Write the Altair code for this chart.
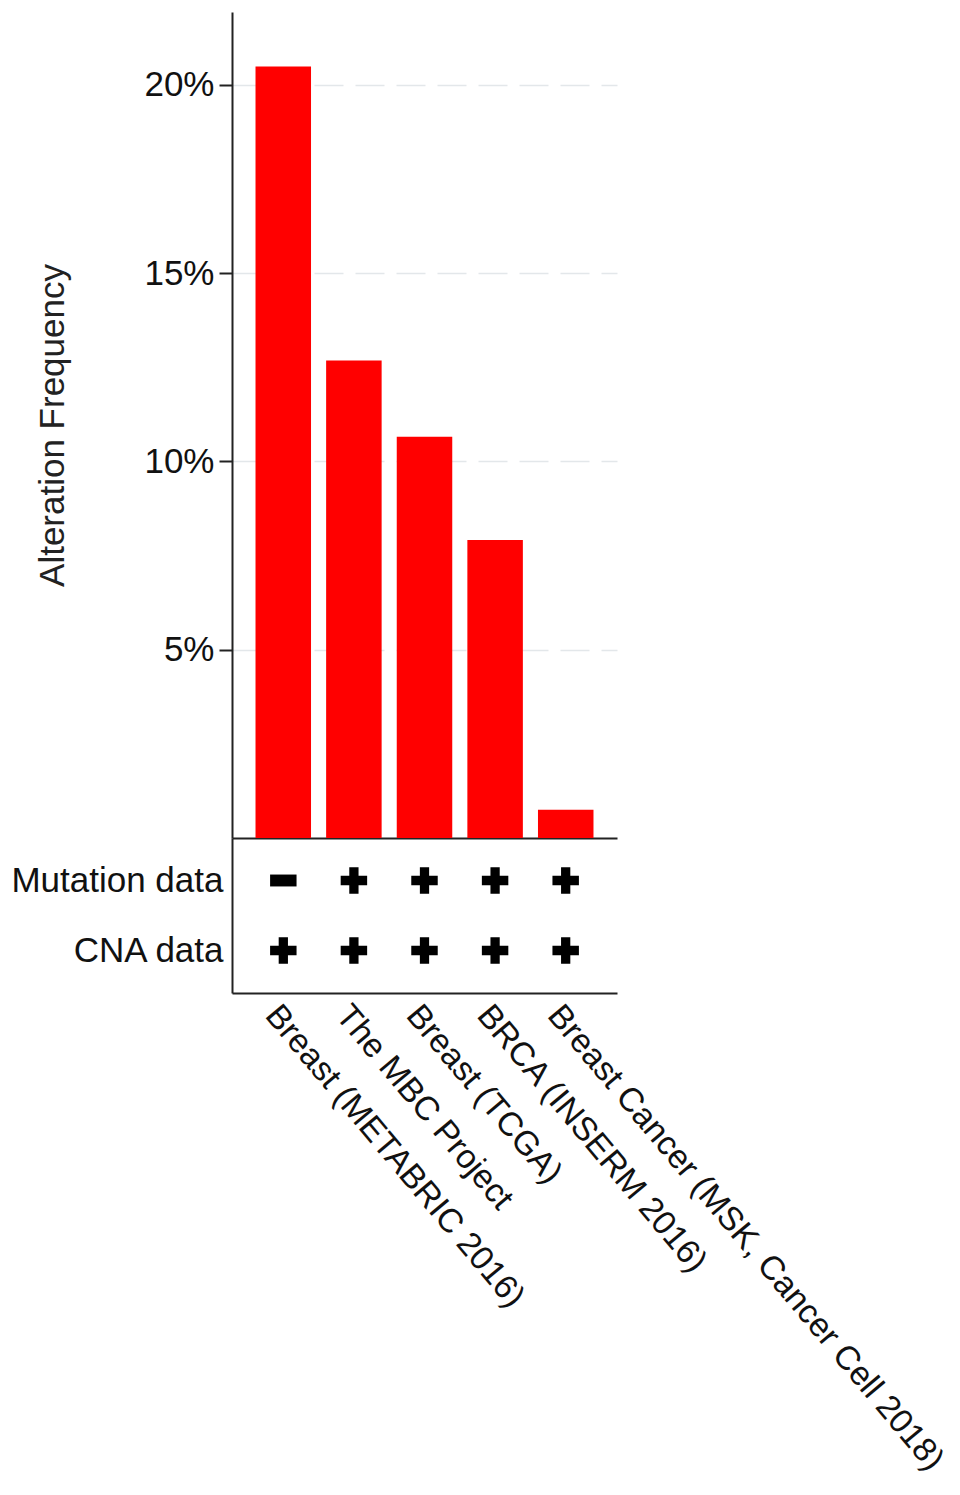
import altair as alt
import pandas as pd

# ---- data ----
studies = [
    "Breast (METABRIC 2016)",
    "The MBC Project",
    "Breast (TCGA)",
    "BRCA (INSERM 2016)",
    "Breast Cancer (MSK, Cancer Cell 2018)",
]
freq = [0.2048, 0.1268, 0.1065, 0.0791, 0.0075]
rows = ["Mutation data", "CNA data"]
mutation = ["-", "+", "+", "+", "+"]
cna = ["+", "+", "+", "+", "+"]
y_ticks = [0.05, 0.10, 0.15, 0.20]

bars_df = pd.DataFrame({"study": studies, "freq": freq})
table_df = pd.DataFrame({
    "study": studies + studies,
    "row": [rows[0]] * len(studies) + [rows[1]] * len(studies),
    "sym": mutation + cna,
})

FONT = "Liberation Sans"
FS = 35
XFS = 33.5
AX = "#222222"

plus_path = "M-1,-0.35H-0.35V-1H0.35V-0.35H1V0.35H0.35V1H-0.35V0.35H-1Z"
minus_path = "M-1,-0.45H1V0.45H-1Z"

bar = alt.Chart(bars_df).mark_bar(color="#ff0000").encode(
    x=alt.X(
        "study:N", sort=studies,
        scale=alt.Scale(paddingInner=0.214, paddingOuter=0.333),
        axis=alt.Axis(title=None, labels=False, ticks=False, domain=True,
                      domainColor=AX, domainWidth=2, grid=False, zindex=0),
    ),
    y=alt.Y(
        "freq:Q",
        scale=alt.Scale(domain=[0, 0.2193], nice=False, zero=True),
        axis=alt.Axis(
            values=y_ticks, format=".0%", title="Alteration Frequency",
            titleFont=FONT, titleFontSize=FS, titleFontWeight="normal",
            titleColor=AX, titlePadding=73,
            labelFont=FONT, labelFontSize=FS, labelColor="#111111",
            labelPadding=5, tickSize=13, tickColor=AX, tickWidth=2,
            domainColor=AX, domainWidth=2,
            grid=True, gridColor="#e3e7ea", gridDash=[29, 12], gridWidth=1.5,
            zindex=0,
        ),
    ),
).properties(width=385, height=826)

table = alt.Chart(table_df).mark_point(
    filled=True, color="black", size=700, opacity=1, strokeWidth=0
).encode(
    x=alt.X(
        "study:N", sort=studies,
        scale=alt.Scale(type="point", padding=0.727),
        axis=alt.Axis(title=None, labelAngle=50, labelAlign="left",
                      labelBaseline="top", ticks=False, labelPadding=6,
                      labelFont=FONT, labelFontSize=XFS, labelColor="#111111",
                      labelLimit=0, domainColor=AX, domainWidth=2, grid=False),
    ),
    y=alt.Y(
        "row:N", sort=rows,
        scale=alt.Scale(type="point", padding=0.607),
        axis=alt.Axis(title=None, ticks=False, labelPadding=9,
                      labelFont=FONT, labelFontSize=FS, labelColor="#111111",
                      labelLimit=0, domainColor=AX, domainWidth=2, grid=False),
    ),
    shape=alt.Shape(
        "sym:N",
        scale=alt.Scale(domain=["+", "-"], range=[plus_path, minus_path]),
        legend=None,
    ),
).properties(width=385, height=155)

chart = alt.vconcat(bar, table, spacing=0).resolve_scale(
    x="independent"
).properties(
    padding={"left": 2, "top": 4, "right": 0, "bottom": 0}
).configure_view(stroke=None)

chart.save("out.html", embed_options={"renderer": "svg", "actions": False})
